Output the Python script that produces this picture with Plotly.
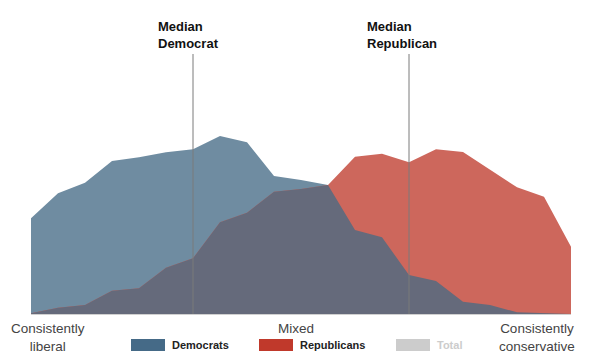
import plotly.graph_objects as go

# Ideological consistency scale positions (0 = consistently liberal, 20 = consistently conservative)
positions = list(range(21))
democrats = [95.7, 120.7, 131.3, 153, 156.7, 161.7, 164.7, 178, 171.7, 138, 134,
             129, 84, 76.7, 39, 33, 12.3, 9, 1.7, 1, 0]
republicans = [0.7, 6.3, 9, 23.3, 25.7, 46.3, 55.7, 91.7, 101.3, 122.3, 125,
               129, 157.3, 160.3, 151.7, 164.7, 162, 144.7, 126.7, 117.3, 67.3]
overlap = [min(d, r) for d, r in zip(democrats, republicans)]
median_dem = 6
median_rep = 14
axis_labels = ["Consistently<br>liberal", "Mixed", "Consistently<br>conservative"]
axis_label_pos = [0.62, 9.81, 18.74]
legend_names = ["Democrats", "Republicans", "Total"]
legend_colors = ["#456a87", "#c0392b", "#cccccc"]
legend_text_colors = ["#222222", "#222222", "#cccccc"]

OFF = 8  # default page body margin
W, H = 594, 355
ML, MR, MT, MB = 23, 31, 6, 49
plot_h = H - MT - MB

def py(p):  # page pixel y -> paper
    return (H - MB - (p - OFF)) / plot_h

def px(p):  # page pixel x -> paper
    return ((p - OFF) - ML) / (W - ML - MR)

fig = go.Figure()
fig.add_trace(go.Scatter(x=positions, y=democrats, mode="lines", fill="tozeroy",
                         line=dict(width=0, color="#6f8ca1"), fillcolor="#6f8ca1",
                         hoverinfo="skip", showlegend=False))
fig.add_trace(go.Scatter(x=positions, y=republicans, mode="lines", fill="tozeroy",
                         line=dict(width=0, color="#cd675c"), fillcolor="#cd675c",
                         hoverinfo="skip", showlegend=False))
fig.add_trace(go.Scatter(x=positions, y=overlap, mode="lines", fill="tozeroy",
                         line=dict(width=0, color="#656a7b"), fillcolor="#656a7b",
                         hoverinfo="skip", showlegend=False))

shapes = []
for m in (median_dem, median_rep):
    shapes.append(dict(type="line", xref="x", yref="paper", x0=m, x1=m, y0=0,
                       y1=py(54), line=dict(color="#7a7a7a", width=1), layer="above"))

annotations = []
for m, name, shift in ((median_dem, "Median<br>Democrat", -5),
                       (median_rep, "Median<br>Republican", -7)):
    annotations.append(dict(x=m, y=py(17), xref="x", yref="paper", text="<b>" + name + "</b>",
                            showarrow=False, xanchor="center", yanchor="top", xshift=shift,
                            align="left",
                            font=dict(family="Liberation Sans, Arial, sans-serif",
                                      size=13, color="#111111")))
for lab, pos in zip(axis_labels, axis_label_pos):
    annotations.append(dict(x=pos, y=py(319), xref="x", yref="paper", text=lab,
                            showarrow=False, xanchor="center", yanchor="top",
                            font=dict(family="Liberation Sans, Arial, sans-serif",
                                      size=13.5, color="#444444")))

# legend drawn manually
sw_x = [131, 259, 396]
for x0, name, col, tcol in zip(sw_x, legend_names, legend_colors, legend_text_colors):
    shapes.append(dict(type="rect", xref="paper", yref="paper",
                       x0=px(x0), x1=px(x0 + 34), y0=py(351), y1=py(339),
                       fillcolor=col, line=dict(width=0)))
    annotations.append(dict(x=px(x0 + 39), y=py(345), xref="paper", yref="paper",
                            text="<b>" + name + "</b>", showarrow=False,
                            xanchor="left", yanchor="middle",
                            font=dict(family="Liberation Sans, Arial, sans-serif",
                                      size=11, color=tcol)))

fig.update_layout(
    width=W, height=H,
    margin=dict(l=ML, r=MR, t=MT, b=MB),
    paper_bgcolor="white", plot_bgcolor="white",
    xaxis=dict(range=[0, 20], showgrid=False, zeroline=False, showticklabels=False,
               showline=True, linecolor="#d0d0d0", linewidth=1, ticks=""),
    yaxis=dict(range=[0, plot_h], showgrid=False, zeroline=False, showticklabels=False,
               showline=False, ticks=""),
    shapes=shapes, annotations=annotations, showlegend=False,
)
fig.write_html("out.html")
